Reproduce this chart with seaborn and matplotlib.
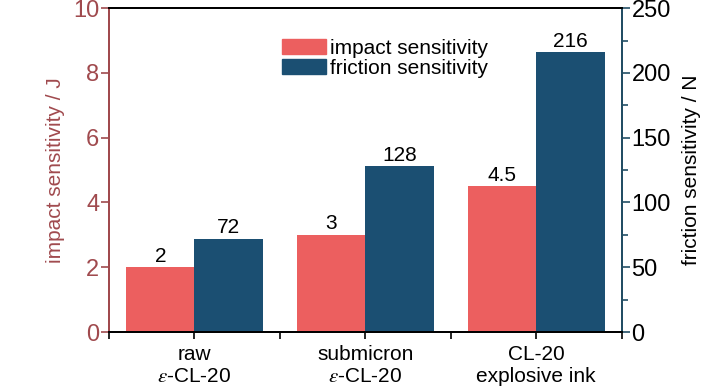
import pandas as pd
import matplotlib.pyplot as plt
import seaborn as sns
from matplotlib.ticker import MultipleLocator, FixedLocator
from matplotlib.patches import Patch

categories = ['raw\n$\\varepsilon$-CL-20', 'submicron\n$\\varepsilon$-CL-20', 'CL-20\nexplosive ink']
impact = [2, 3, 4.5]
friction = [72, 128, 216]
impact_labels = ['2', '3', '4.5']
friction_labels = ['72', '128', '216']

series = ['impact sensitivity', 'friction sensitivity']
colors = {'impact sensitivity': '#ec5f5f', 'friction sensitivity': '#1b4f72'}
left_color = '#a04a4e'
right_color = '#234f66'

sns.set_style('white')
plt.rcParams['font.family'] = ['Liberation Sans Narrow', 'Liberation Sans', 'DejaVu Sans']
plt.rcParams['mathtext.fontset'] = 'stix'
plt.rcParams['text.color'] = 'black'
plt.rcParams['axes.labelcolor'] = 'black'
plt.rcParams['xtick.color'] = 'black'
plt.rcParams['ytick.color'] = 'black'

df_imp = pd.DataFrame({'cat': categories, 'val': impact, 'series': series[0]})
df_fri = pd.DataFrame({'cat': categories, 'val': friction, 'series': series[1]})

fig = plt.figure(figsize=(7.28, 3.9), dpi=100)
ax = fig.add_axes([0.1497, 0.1487, 0.7043, 0.8303])
ax2 = ax.twinx()

sns.barplot(data=df_imp, x='cat', y='val', hue='series', hue_order=series,
            palette=colors, width=0.8, dodge=True, ax=ax, legend=False,
            saturation=1, linewidth=0)
sns.barplot(data=df_fri, x='cat', y='val', hue='series', hue_order=series,
            palette=colors, width=0.8, dodge=True, ax=ax2, legend=False,
            saturation=1, linewidth=0)


def full_container(a):
    for c in a.containers:
        if len(c) and all(p is not None for p in c):
            return c


ax.bar_label(full_container(ax), labels=impact_labels, padding=1, fontsize=15)
ax2.bar_label(full_container(ax2), labels=friction_labels, padding=1, fontsize=15)

ax.set_xlim(-0.5, 2.5)
ax.set_ylim(0, 10)
ax2.set_ylim(0, 250)
ax.set_xlabel('')
ax.set_ylabel('impact sensitivity / J', fontsize=15, color=left_color, labelpad=6)
ax2.set_ylabel('friction sensitivity / N', fontsize=15, color='black', labelpad=8)

ax.yaxis.set_major_locator(MultipleLocator(2))
ax2.yaxis.set_major_locator(MultipleLocator(50))
ax2.yaxis.set_minor_locator(MultipleLocator(25))
ax.xaxis.set_minor_locator(FixedLocator([-0.5, 0.5, 1.5, 2.5]))

ax.tick_params(axis='y', direction='out', length=6, width=1.2, colors=left_color,
               labelsize=17, pad=1, left=True)
ax.tick_params(axis='x', which='both', direction='out', length=5, width=1.2,
               labelsize=15, bottom=True, pad=4, colors='black')
ax2.tick_params(axis='y', which='major', direction='out', length=6, width=1.2,
                color=right_color, labelcolor='black', labelsize=17, pad=1, right=True)
ax2.tick_params(axis='y', which='minor', direction='out', length=4, width=1.2,
                color=right_color, right=True)

for a in (ax, ax2):
    for s in a.spines.values():
        s.set_linewidth(1.4)
ax2.spines['left'].set_color(left_color)
ax2.spines['right'].set_color(right_color)
ax2.spines['top'].set_color('black')
ax2.spines['bottom'].set_color('black')
ax.spines['left'].set_color(left_color)

handles = [Patch(color=colors[s], label=s) for s in series]
ax2.legend(handles=handles, loc='upper left', bbox_to_anchor=(0.337, 0.905),
           frameon=False, fontsize=15, handlelength=2.1, handleheight=0.75,
           handletextpad=0.2, labelspacing=0.05, borderaxespad=0, borderpad=0)

fig.savefig('out.png', dpi=100)
